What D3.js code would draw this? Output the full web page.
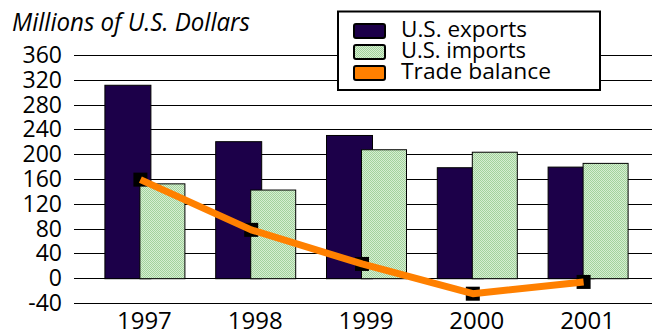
<!DOCTYPE html>
<html>
<head>
<meta charset="utf-8">
<script src="https://cdn.jsdelivr.net/npm/d3@7"></script>
<style>
  html, body { margin: 0; padding: 0; background: #fff; }
  svg { display: block; }
  text { font-family: "Open Sans", "DejaVu Sans", sans-serif; fill: #000; }
</style>
</head>
<body>
<svg id="chart" width="654" height="333"></svg>
<script>
// U.S. trade, millions of dollars
const years = ["1997", "1998", "1999", "2000", "2001"];
const exportsVals = [312, 221, 231, 179, 180];
const importsVals = [153, 143, 208, 204, 186];
const balanceVals = [159, 78, 23, -25, -6];
const yTicks = [-40, 0, 40, 80, 120, 160, 200, 240, 280, 320, 360];
const seriesNames = ["U.S. exports", "U.S. imports", "Trade balance"];
const titleText = "Millions of U.S. Dollars";

const svg = d3.select("#chart");
const plotLeft = 74, plotRight = 652;

const EXPORT_COLOR = "#1c0049";
const LINE_COLOR = "#ff8000";

// dithered light-green fill for the imports bars
const defs = svg.append("defs");
const pat = defs.append("pattern")
  .attr("id", "importsFill")
  .attr("width", 2).attr("height", 2)
  .attr("patternUnits", "userSpaceOnUse");
pat.append("rect").attr("width", 2).attr("height", 2).attr("fill", "#d6eed2");
pat.append("rect").attr("width", 1).attr("height", 1).attr("fill", "#a2d29c");
pat.append("rect").attr("x", 1).attr("y", 1).attr("width", 1).attr("height", 1).attr("fill", "#a2d29c");

const x = d3.scaleBand().domain(years).range([89, 643]).paddingInner(0).paddingOuter(0);
const y = d3.scaleLinear().domain([-40, 360]).range([303, 55]);
const cx = d => x(d) + x.bandwidth() / 2;

// horizontal gridlines
svg.append("g").selectAll("line")
  .data(yTicks)
  .join("line")
  .attr("x1", plotLeft).attr("x2", plotRight)
  .attr("y1", d => Math.round(y(d)) + 0.5)
  .attr("y2", d => Math.round(y(d)) + 0.5)
  .attr("stroke", "#000").attr("stroke-width", 1);

// y tick labels
svg.append("g").selectAll("text")
  .data(yTicks)
  .join("text")
  .attr("x", 62)
  .attr("y", d => y(d) + 8)
  .attr("text-anchor", "end")
  .attr("font-size", 23)
  .text(d => d);

// bars: exports sit left, imports overlap them slightly on the right
const barW = 46, impW = 45;
svg.append("g").selectAll("rect")
  .data(years.map((yr, i) => ({ yr, v: exportsVals[i] })))
  .join("rect")
  .attr("x", d => cx(d.yr) - 40 + 0.5)
  .attr("y", d => y(d.v) + 0.5)
  .attr("width", barW)
  .attr("height", d => y(0) - y(d.v))
  .attr("fill", EXPORT_COLOR)
  .attr("stroke", "#000").attr("stroke-width", 1);

svg.append("g").selectAll("rect")
  .data(years.map((yr, i) => ({ yr, v: importsVals[i] })))
  .join("rect")
  .attr("x", d => cx(d.yr) - 5 + 0.5)
  .attr("y", d => y(d.v) + 0.5)
  .attr("width", impW)
  .attr("height", d => y(0) - y(d.v))
  .attr("fill", "url(#importsFill)")
  .attr("stroke", "#000").attr("stroke-width", 1);

// trade balance markers and line
const pts = years.map((yr, i) => [cx(yr) - 4, y(balanceVals[i])]);
svg.append("g").selectAll("rect")
  .data(pts)
  .join("rect")
  .attr("x", d => d[0] - 7)
  .attr("y", d => d[1] - 7)
  .attr("width", 14).attr("height", 14)
  .attr("fill", "#000");

svg.append("path")
  .datum(pts)
  .attr("d", d3.line())
  .attr("fill", "none")
  .attr("stroke", LINE_COLOR)
  .attr("stroke-width", 7)
  .attr("stroke-linejoin", "round");

// x category labels
svg.append("g").selectAll("text")
  .data(years)
  .join("text")
  .attr("x", d => cx(d))
  .attr("y", 329)
  .attr("text-anchor", "middle")
  .attr("font-size", 24)
  .text(d => d);

// axis title
svg.append("text")
  .attr("x", 12).attr("y", 31)
  .attr("font-size", 25)
  .attr("font-style", "italic")
  .attr("textLength", 238)
  .attr("lengthAdjust", "spacingAndGlyphs")
  .text(titleText);

// legend
const lg = svg.append("g");
lg.append("rect")
  .attr("x", 338).attr("y", 11.5)
  .attr("width", 262).attr("height", 78.5)
  .attr("fill", "#fff").attr("stroke", "#000").attr("stroke-width", 2);

const swatchFills = [EXPORT_COLOR, "url(#importsFill)", LINE_COLOR];
const rowY = [24, 45, 66];
const textW = [126, 125, 150];
seriesNames.forEach((name, i) => {
  lg.append("rect")
    .attr("x", 354).attr("y", rowY[i])
    .attr("width", 31).attr("height", 14)
    .attr("rx", 2)
    .attr("fill", swatchFills[i])
    .attr("stroke", "#000").attr("stroke-width", 2);
  lg.append("text")
    .attr("x", 401).attr("y", rowY[i] + 12.5)
    .attr("font-size", 21)
    .attr("textLength", textW[i])
    .attr("lengthAdjust", "spacingAndGlyphs")
    .text(name);
});
</script>
</body>
</html>
